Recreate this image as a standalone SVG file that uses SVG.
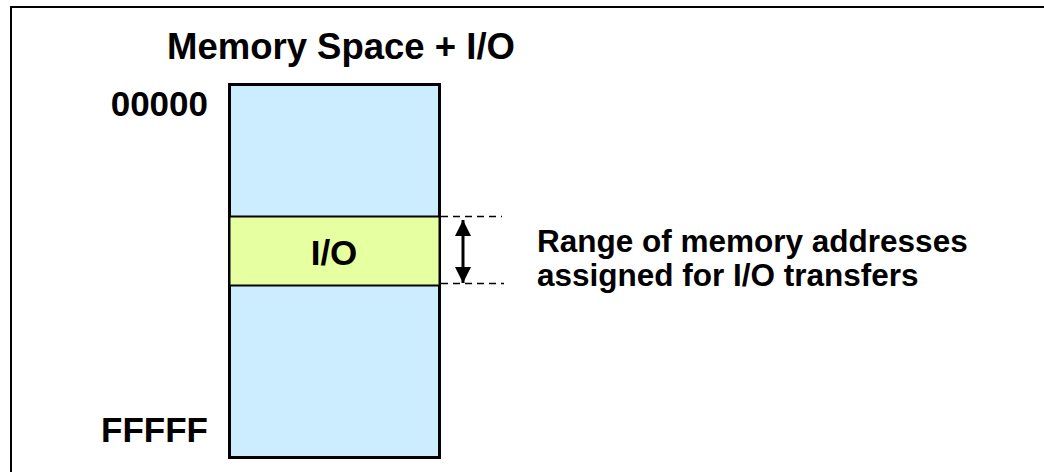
<svg xmlns="http://www.w3.org/2000/svg" width="1044" height="472" viewBox="0 0 1044 472">
<style>
  .lbl { font-family: "Liberation Sans", Arial, sans-serif; font-weight: bold; fill: #000; }
  .big { font-size: 35px; }
  .mid { font-size: 31.5px; }
  .dash { stroke: #000; stroke-width: 1.5; stroke-dasharray: 7 5; fill: none; }
</style>
<defs>
  <marker id="ah" viewBox="0 0 16 16" refX="16" refY="8" markerWidth="16" markerHeight="16" markerUnits="userSpaceOnUse" orient="auto-start-reverse">
    <path d="M0,0 L16,8 L0,16 Z" fill="#000"/>
  </marker>
</defs>
<rect width="1044" height="472" fill="#fff"/>
<rect x="11" y="7" width="1100" height="520" fill="none" stroke="#000" stroke-width="2"/>

<g id="title">
  <text class="lbl" x="167" y="59" font-size="36.5">Memory Space + I/O</text>
</g>

<g id="memory">
  <rect x="229.5" y="84.5" width="210" height="373" fill="#CCECFF" stroke="#000" stroke-width="3"/>
</g>

<g id="io-band">
  <rect x="229.5" y="216.5" width="210" height="69" fill="#E6FFA0" stroke="#000" stroke-width="2"/>
  <text class="lbl big" x="334" y="265" text-anchor="middle">I/O</text>
</g>

<g id="addr-start">
  <text class="lbl big" x="208" y="116" text-anchor="end">00000</text>
</g>
<g id="addr-end">
  <text class="lbl big" x="208" y="442" text-anchor="end">FFFFF</text>
</g>

<g id="connectors">
  <line class="dash" x1="441" y1="216.5" x2="502" y2="216.5"/>
  <line class="dash" x1="441" y1="283.5" x2="504" y2="283.5"/>
  <line x1="463" y1="220" x2="463" y2="283" stroke="#000" stroke-width="3" marker-start="url(#ah)" marker-end="url(#ah)"/>
</g>

<g id="range-label">
  <text class="lbl mid" x="537" y="252">Range of memory addresses</text>
  <text class="lbl mid" x="537" y="286">assigned for I/O transfers</text>
</g>
</svg>
